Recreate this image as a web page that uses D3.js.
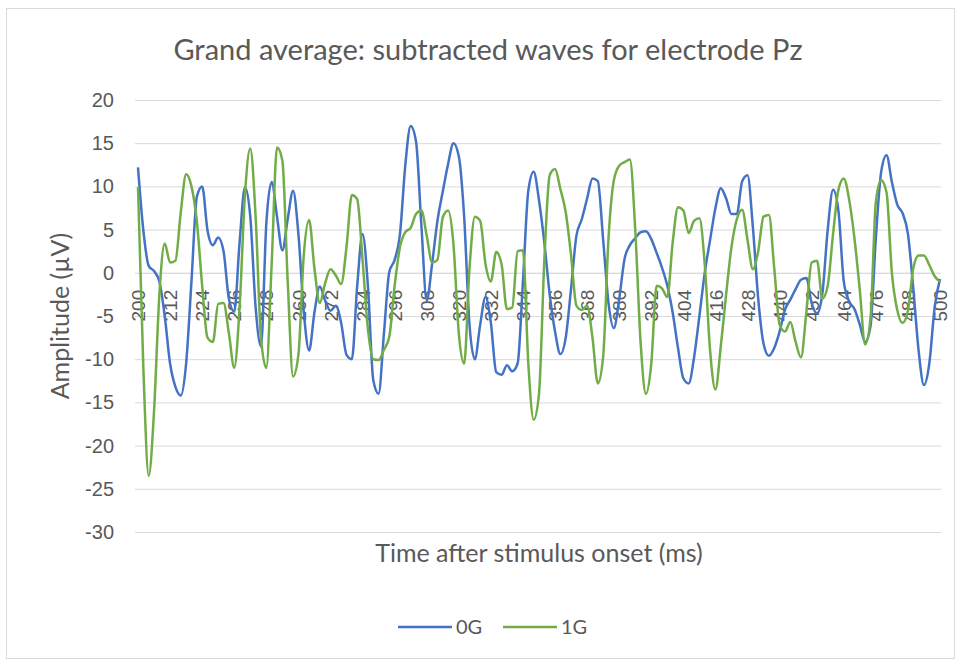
<!DOCTYPE html>
<html>
<head>
<meta charset="utf-8">
<script src="https://cdn.jsdelivr.net/npm/d3@7"></script>
<style>
  body { margin: 0; background: #fff; }
  svg { display: block; font-family: Lato, "Open Sans", sans-serif; }
</style>
</head>
<body>
<div id="chart"></div>
<script>
/* Grand average ERP chart, electrode Pz */

// time after stimulus onset (ms), every 2 ms
const times = d3.range(200, 501, 2);

// amplitude (µV)
const wave0G = [
  12.2, 4.9, 0.8, 0.2, -1.0, -5.0, -10.5, -13.2, -14.2, -10.5,
  -1.0, 8.8, 10.0, 4.9, 3.2, 4.1, 2.5, -3.0, -4.5, 3.5,
  9.9, 6.5, -4.0, -8.5, 5.7, 10.5, 6.5, 2.6, 6.2, 9.5,
  4.5, -4.5, -9.0, -4.6, -1.6, -3.2, -4.4, -3.8, -5.8, -9.5,
  -10.0, -1.5, 4.5, -1.5, -12.4, -14.0, -7.0, 0.1, 1.5, 4.5,
  12.5, 17.0, 15.2, 5.5, -3.2, 1.0, 6.0, 9.4, 12.6, 15.0,
  13.5, 6.5, -6.0, -10.0, -6.0, -2.8, -5.8, -11.5, -11.8, -10.7,
  -11.4, -10.5, -1.0, 9.5, 11.7, 8.4, 3.5, -2.5, -6.8, -9.4,
  -7.5, -1.8, 4.3, 6.2, 8.6, 10.9, 10.6, 3.8, -3.5, -6.4,
  -3.0, 1.6, 3.2, 4.0, 4.7, 4.8, 3.9, 2.3, 0.6, -1.5,
  -4.6, -8.7, -12.2, -12.8, -9.8, -5.0, 0.0, 3.8, 7.5, 9.8,
  8.6, 6.8, 6.8, 10.6, 11.3, 5.3, -3.0, -8.2, -9.6, -8.7,
  -6.8, -4.3, -3.1, -1.9, -0.8, -0.6, -3.5, -4.7, -2.4, 5.0,
  9.6, 7.2, -1.0, -3.3, -4.2, -6.0, -8.0, -6.2, 4.0, 11.7,
  13.6, 10.5, 7.9, 6.9, 4.5, -1.8, -9.0, -13.0, -10.5, -4.0,
  -0.7
];

const wave1G = [
  9.9, -11.0, -23.5, -16.0, -2.5, 3.4, 1.2, 1.4, 7.0, 11.4,
  10.0, 6.0, -1.5, -7.5, -8.0, -3.6, -3.5, -7.0, -11.0, -4.0,
  9.0, 14.4, 6.5, -7.5, -11.0, 1.0, 14.5, 13.0, -1.0, -12.0,
  -9.5, 2.0, 6.1, 0.5, -3.5, -1.2, 0.4, -0.3, -1.3, 3.0,
  9.0, 8.5, 1.5, -6.5, -10.0, -10.1, -8.9, -7.4, -1.5, 3.0,
  4.7, 5.2, 6.8, 7.2, 4.3, 1.2, 1.5, 6.4, 7.2, 3.3,
  -7.0, -10.5, 0.5, 6.5, 6.0, 1.0, -1.0, 2.4, 1.0, -4.2,
  -4.0, 2.5, 2.6, -10.5, -17.0, -14.0, 1.5, 11.3, 12.0, 9.7,
  7.0, 2.0, -3.8, -4.3, -3.8, -7.5, -12.8, -9.7, 4.0, 10.7,
  12.4, 12.8, 13.1, 5.0, -8.0, -14.0, -10.5, -1.5, -1.8, -2.8,
  3.5, 7.6, 7.2, 4.6, 6.0, 6.3, 1.0, -9.0, -13.5, -8.5,
  -2.5, 3.0, 6.2, 7.3, 3.8, 0.4, 2.5, 6.5, 6.7, 0.5,
  -6.0, -6.8, -5.7, -8.0, -9.8, -4.6, 1.2, 1.4, -3.0, -1.5,
  4.5, 9.6, 10.9, 8.5, 4.0, -2.0, -8.3, -5.3, 8.2, 10.7,
  9.3, 0.0, -4.3, -5.8, -4.4, 0.5, 2.0, 2.0, 0.9, -0.4,
  -1.0
];

const seriesNames = ["0G", "1G"];
const seriesColors = ["#4472C4", "#70AD47"];
const xTicks = d3.range(200, 501, 12);
const yTicks = d3.range(-30, 21, 5);

const width = 964,
      height = 665,
      margin = ({ top: 100, right: 24, bottom: 133, left: 138 });

const svg = d3.select("#chart")
    .append("svg")
    .attr("width", width)
    .attr("height", height);

// chart frame
svg.append("rect")
    .attr("x", 6.5).attr("y", 8.5)
    .attr("width", 948).attr("height", 650)
    .attr("fill", "none")
    .attr("stroke", "#d9d9d9");

const x = d3.scaleLinear()
    .domain([200, 500])
    .range([margin.left, width - margin.right]);

const y = d3.scaleLinear()
    .domain([-30, 20])
    .range([height - margin.bottom, margin.top]);

// gridlines + y labels
const yAxis = svg.append("g")
    .attr("transform", `translate(${margin.left - 3},0)`)
    .call(d3.axisLeft(y).tickValues(yTicks)
        .tickSize(-(width - margin.right - margin.left + 4))
        .tickPadding(21)
        .tickFormat(d => String(d)));
yAxis.select(".domain").remove();
yAxis.selectAll(".tick line").attr("stroke", "#d9d9d9");
yAxis.selectAll(".tick text")
    .attr("fill", "#595959")
    .style("font-size", "20px");

// x labels sit on the zero line, rotated
const xAxis = svg.append("g")
    .attr("transform", `translate(0,${y(0)})`)
    .call(d3.axisBottom(x).tickValues(xTicks).tickSize(0).tickFormat(d3.format("d")));
xAxis.select(".domain").attr("stroke", "#d9d9d9");
xAxis.selectAll(".tick text")
    .attr("fill", "#595959")
    .style("font-size", "19px")
    .attr("text-anchor", "end")
    .attr("transform", "rotate(-90)")
    .attr("x", -17)
    .attr("y", 0)
    .attr("dy", "0.35em");

const line = d3.line()
    .x((d, i) => x(times[i]))
    .y(d => y(d))
    .curve(d3.curveMonotoneX);

[wave0G, wave1G].forEach((vals, i) => {
    svg.append("path")
        .datum(vals)
        .attr("fill", "none")
        .attr("stroke", seriesColors[i])
        .attr("stroke-width", 2.5)
        .attr("stroke-linejoin", "round")
        .attr("d", line);
});

// title
svg.append("text")
    .attr("x", 488)
    .attr("y", 60)
    .attr("text-anchor", "middle")
    .attr("fill", "#595959")
    .style("font-size", "29px")
    .text("Grand average: subtracted waves for electrode Pz");

// axis titles
svg.append("text")
    .attr("x", (margin.left + width - margin.right) / 2)
    .attr("y", 562)
    .attr("text-anchor", "middle")
    .attr("fill", "#595959")
    .style("font-size", "25px")
    .text("Time after stimulus onset (ms)");

svg.append("text")
    .attr("transform", `translate(69,${y(-5)}) rotate(-90)`)
    .attr("text-anchor", "middle")
    .attr("fill", "#595959")
    .style("font-size", "25px")
    .text("Amplitude (µV)");

// legend
const legend = svg.append("g").attr("transform", "translate(398,627)");
seriesNames.forEach((name, i) => {
    const g = legend.append("g").attr("transform", `translate(${i * 105},0)`);
    g.append("line")
        .attr("x1", 0).attr("x2", 54)
        .attr("stroke", seriesColors[i])
        .attr("stroke-width", 2.5);
    g.append("text")
        .attr("x", 58).attr("dy", "0.35em")
        .attr("fill", "#595959")
        .style("font-size", "20px")
        .text(name);
});
</script>
</body>
</html>
